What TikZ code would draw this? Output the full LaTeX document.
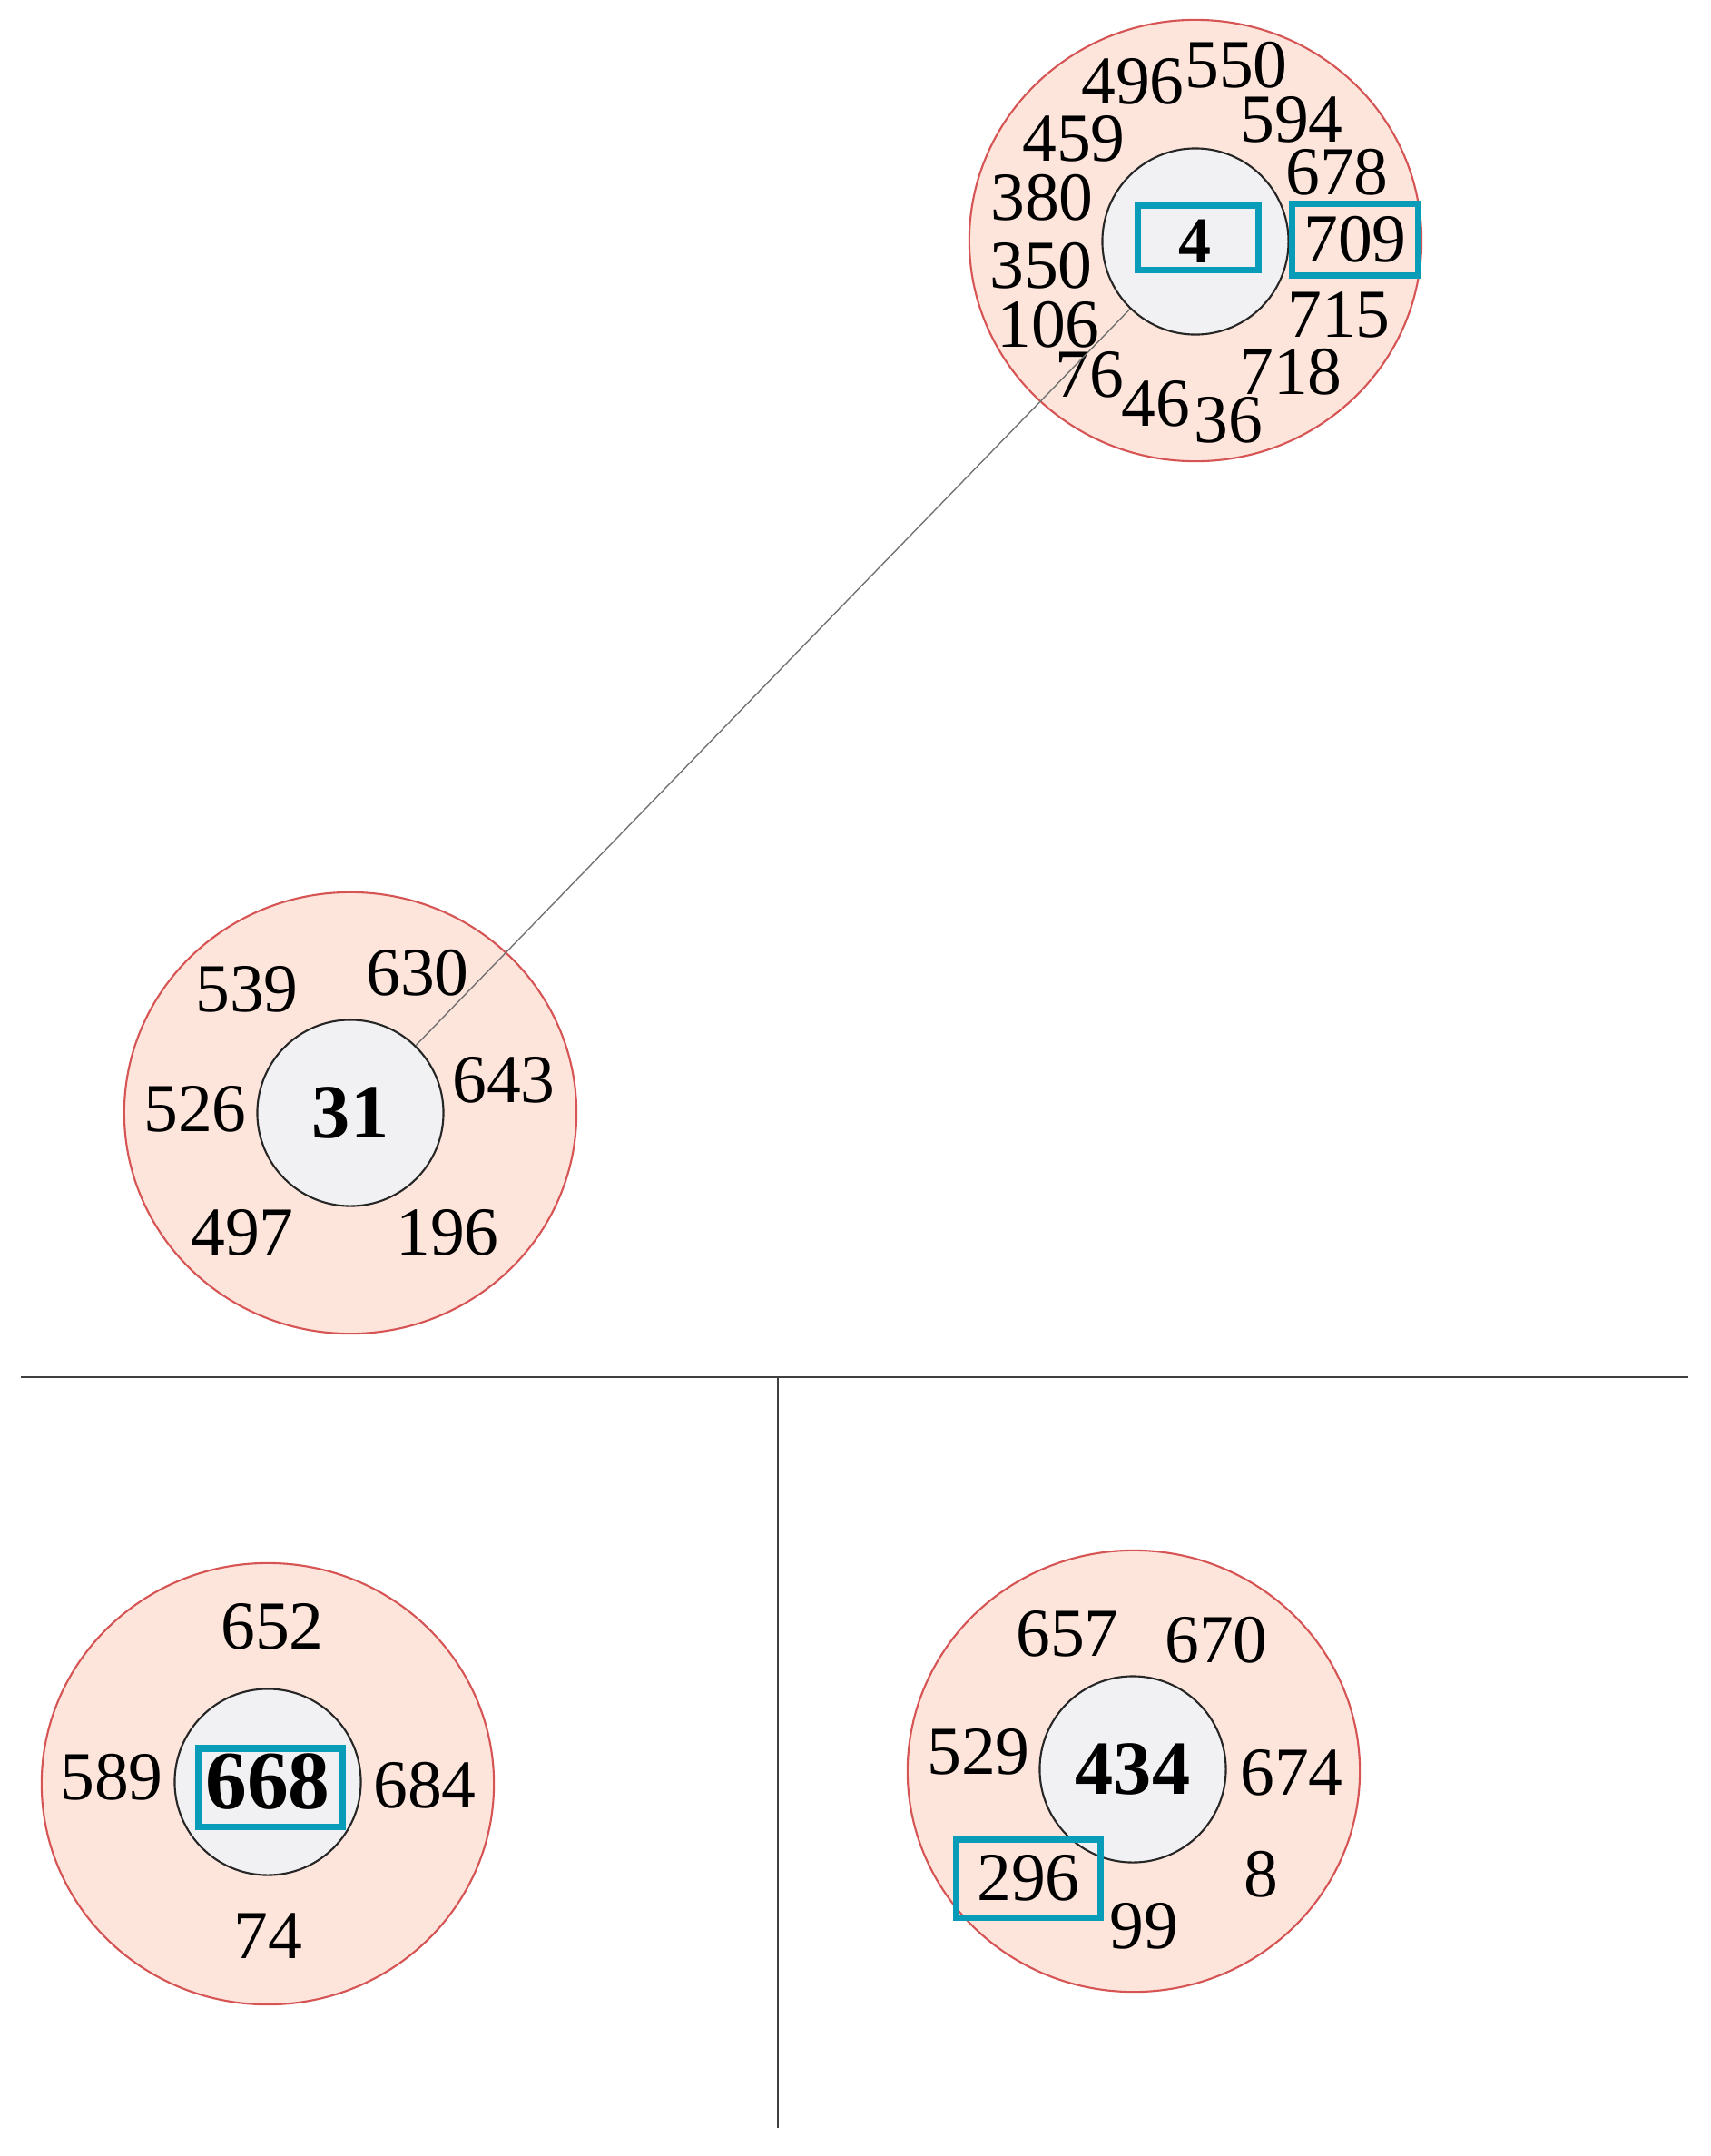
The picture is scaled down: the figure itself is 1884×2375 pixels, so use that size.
\documentclass[tikz,border=0pt]{standalone}
\usepackage{fontspec}
\setmainfont{Liberation Serif}
\usetikzlibrary{shapes.geometric}
\begin{document}
\begin{tikzpicture}[x=0.01cm,y=-0.01cm]

        \definecolor{peach}{RGB}{253,229,219}
        \definecolor{ringred}{RGB}{214,84,84}
        \definecolor{coregray}{RGB}{241,241,243}
        \definecolor{hiteal}{RGB}{8,156,184}

        \tikzset{outer/.style = {ellipse, draw=ringred, fill=peach, line width=0.6pt, minimum width=4.98cm, minimum height=4.86cm, inner sep=0pt}, }
        \tikzset{core/.style = {circle, draw=black!85, fill=coregray, line width=0.6pt, minimum size=2.05cm, inner sep=0pt, font=\fontsize{24}{26}\selectfont\bfseries}, }
        \tikzset{num/.style = {inner sep=0pt, font=\fontsize{21.5}{24}\selectfont}, }
        \tikzset{hibox/.style = {rectangle, draw=hiteal, line width=2pt, inner sep=0pt}, }
        \tikzstyle{link} = [draw=black!55, line width=0.4pt]
        \tikzstyle{sep} = [draw=black!75, line width=0.5pt]

        \useasboundingbox (0,0) rectangle (1884,2375);

        \node[outer] (R4) at (1317,265) {};
        \node[core, font=\fontsize{20.5}{22}\selectfont\bfseries] (C4) at (1317,266) {4};
        \node[hibox, minimum width=1.33cm, minimum height=0.71cm] (B4) at (1320,262) {};
        \node[num] (n496) at (1248,90) {496};
        \node[num] (n550) at (1362,72) {550};
        \node[num] (n459) at (1183,153) {459};
        \node[num] (n594) at (1423,132) {594};
        \node[num] (n380) at (1148,218) {380};
        \node[num] (n678) at (1473,190) {678};
        \node[num] (n350) at (1147,293) {350};
        \node[num, hibox, minimum width=1.38cm, minimum height=0.79cm] (n709) at (1493,264) {709};
        \node[num] (n106) at (1155,358) {106};
        \node[num] (n715) at (1475,347) {715};
        \node[num] (n76) at (1200,413) {76};
        \node[num] (n718) at (1422,410) {718};
        \node[num] (n46) at (1273,445) {46};
        \node[num] (n36) at (1353,463) {36};

        \node[outer] (R31) at (386,1226) {};
        \node[core] (C31) at (386,1226) {31};
        \node[num] (n539) at (272,1090) {539};
        \node[num] (n630) at (460,1072) {630};
        \node[num] (n526) at (215,1222) {526};
        \node[num] (n643) at (555,1190) {643};
        \node[num] (n497) at (267,1358) {497};
        \node[num] (n196) at (493,1358) {196};

        \node[outer] (R668) at (295,1965) {};
        \node[core, font=\fontsize{26}{28}\selectfont\bfseries] (C668) at (295,1963) {668};
        \node[hibox, minimum width=1.58cm, minimum height=0.86cm] (B668) at (298,1969) {};
        \node[num] (n652) at (300,1792) {652};
        \node[num] (n589) at (123,1958) {589};
        \node[num] (n684) at (468,1967) {684};
        \node[num] (n74) at (295,2133) {74};

        \node[outer] (R434) at (1249,1951) {};
        \node[core] (C434) at (1248,1949) {434};
        \node[num] (n657) at (1176,1800) {657};
        \node[num] (n670) at (1340,1807) {670};
        \node[num] (n529) at (1078,1930) {529};
        \node[num] (n674) at (1423,1953) {674};
        \node[num, hibox, minimum width=1.58cm, minimum height=0.86cm] (n296) at (1133,2069) {296\hspace{0.3cm}};
        \node[num] (n8) at (1389,2065) {8};
        \node[num] (n99) at (1260,2122) {99};

        \path[link] (C31) -- (C4);

        \coordinate (HL) at (23,1517);
        \coordinate (HR) at (1860,1517);
        \coordinate (VB) at (857,2344);
        \draw[sep] (HL) -- (HR);
        \draw[sep] (HL -| VB) -- (VB);

\end{tikzpicture}
\end{document}
